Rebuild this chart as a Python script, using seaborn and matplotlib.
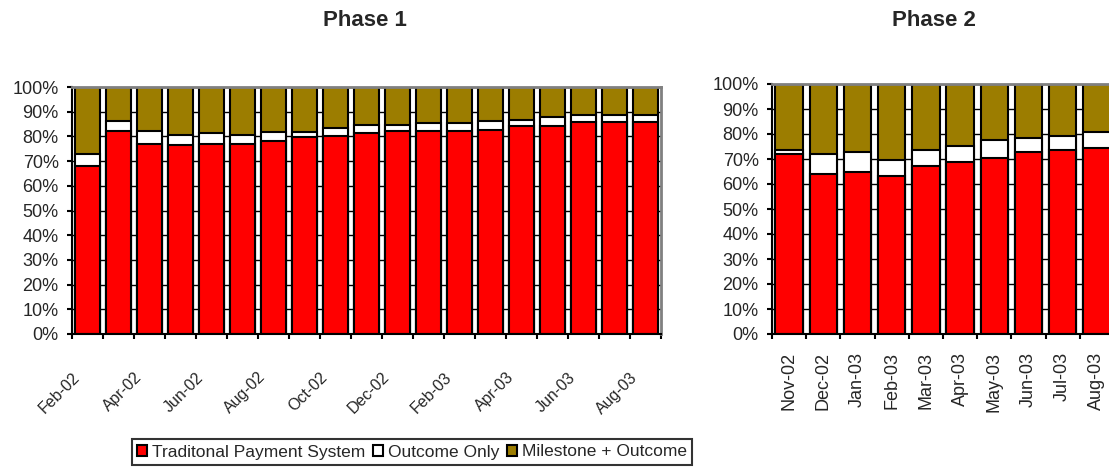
import numpy as np
import pandas as pd
import seaborn as sns
import matplotlib.pyplot as plt
from matplotlib.patches import Patch

# 数据 (百分比)
p1_months = ['Feb-02', 'Mar-02', 'Apr-02', 'May-02', 'Jun-02', 'Jul-02', 'Aug-02', 'Sep-02',
             'Oct-02', 'Nov-02', 'Dec-02', 'Jan-03', 'Feb-03', 'Mar-03', 'Apr-03', 'May-03',
             'Jun-03', 'Jul-03', 'Aug-03']
p1_traditional = [68.1, 82.0, 77.0, 76.4, 77.0, 77.0, 78.0, 79.6, 80.3, 81.2,
                  82.0, 82.0, 82.0, 82.7, 84.3, 84.3, 85.9, 85.9, 85.9]
p1_outcome = [4.9, 4.1, 5.0, 4.0, 4.2, 3.4, 3.9, 2.3, 3.3, 3.3,
              2.5, 3.4, 3.4, 3.4, 2.5, 3.5, 2.7, 2.7, 2.7]

p2_months = ['Nov-02', 'Dec-02', 'Jan-03', 'Feb-03', 'Mar-03', 'Apr-03', 'May-03',
             'Jun-03', 'Jul-03', 'Aug-03']
p2_traditional = [72.1, 64.1, 64.9, 63.3, 67.3, 68.9, 70.5, 72.9, 73.7, 74.5]
p2_outcome = [1.6, 8.0, 8.0, 6.4, 6.4, 6.4, 7.2, 5.6, 5.6, 6.4]

series_names = ['Traditonal Payment System', 'Outcome Only', 'Milestone + Outcome']
colors = ['#FF0000', '#FFFFFF', '#9C7D00']

sns.set_style('white')
plt.rcParams['font.family'] = ['Liberation Sans', 'DejaVu Sans']


def make_frame(months, trad, outc):
    df = pd.DataFrame({'month': months, 'trad': trad, 'outc': outc})
    df['milestone'] = 100 - df['trad'] - df['outc']
    # 累计高度, 用于堆叠
    df['top_white'] = df['trad'] + df['outc']
    df['top_all'] = df['top_white'] + df['milestone']
    return df


def draw_stacked(ax, df, width):
    for col, c in [('top_all', colors[2]), ('top_white', colors[1]), ('trad', colors[0])]:
        sns.barplot(data=df, x='month', y=col, color=c, edgecolor='black', linewidth=1.5,
                    width=width, errorbar=None, saturation=1, order=list(df['month']), ax=ax)
    n = len(df)
    ax.set_xlim(-0.5, n - 0.5)
    ax.set_ylim(0, 100)
    ax.set_yticks(np.arange(0, 101, 10))
    ax.set_yticklabels([f'{v}%' for v in range(0, 101, 10)], fontsize=13)
    ax.set_xlabel('')
    ax.set_ylabel('')
    ax.yaxis.grid(True, color='black', linewidth=1)
    ax.set_axisbelow(True)
    ax.tick_params(axis='y', length=3.6, width=1.5, color='black', pad=6, left=True)
    for s in ['left', 'bottom']:
        ax.spines[s].set_color('black')
        ax.spines[s].set_linewidth(1.5)
    for s in ['top', 'right']:
        ax.spines[s].set_color('#808080')
        ax.spines[s].set_linewidth(2)


fig = plt.figure(figsize=(11.09, 4.68), dpi=100)
ax1 = fig.add_axes([72 / 1109, 1 - 334 / 468, 589 / 1109, 247 / 468])
ax2 = fig.add_axes([772 / 1109, 1 - 334 / 468, 342 / 1109, 250 / 468])

df1 = make_frame(p1_months, p1_traditional, p1_outcome)
df2 = make_frame(p2_months, p2_traditional, p2_outcome)
draw_stacked(ax1, df1, 0.78)
draw_stacked(ax2, df2, 0.8)

# Phase 1: 刻度在分类边界, 每隔一个标注
n1 = len(p1_months)
ax1.set_xticks(np.arange(n1 + 1) - 0.5)
lab1 = [m if i % 2 == 0 else '' for i, m in enumerate(p1_months)] + ['']
ax1.set_xticklabels(lab1, rotation=45, ha='right', rotation_mode='anchor', fontsize=11.5)
ax1.tick_params(axis='x', length=3.6, width=1.5, color='black', pad=22, bottom=True)
ax1.set_xlim(-0.5, n1 - 0.5)

# Phase 2: 标签在柱中心, 刻度在边界
n2 = len(p2_months)
ax2.set_xticks(np.arange(n2))
ax2.set_xticklabels(p2_months, rotation=90, fontsize=13)
ax2.set_xticks(np.arange(n2 + 1) - 0.5, minor=True)
ax2.tick_params(axis='x', which='major', length=0, pad=13)
ax2.tick_params(axis='x', which='minor', length=3.6, width=1.5, color='black', bottom=True)
ax2.set_xlim(-0.5, n2 - 0.5)

fig.text(365 / 1109, 1 - 20 / 468, 'Phase 1', ha='center', va='center', fontsize=16, weight='bold')
fig.text(934 / 1109, 1 - 20 / 468, 'Phase 2', ha='center', va='center', fontsize=16, weight='bold')

handles = [Patch(facecolor=c, edgecolor='black', linewidth=1.5) for c in colors]
leg = fig.legend(handles, series_names, loc='center', bbox_to_anchor=(412 / 1109, 1 - 452 / 468),
                 ncol=3, fontsize=12.5, frameon=True, fancybox=False, handlelength=0.6,
                 handleheight=0.6, handletextpad=0.3, columnspacing=0.4, borderpad=0.3,
                 borderaxespad=0)
leg.get_frame().set_edgecolor('black')
leg.get_frame().set_linewidth(1.5)

fig.savefig('out.png', dpi=100)
